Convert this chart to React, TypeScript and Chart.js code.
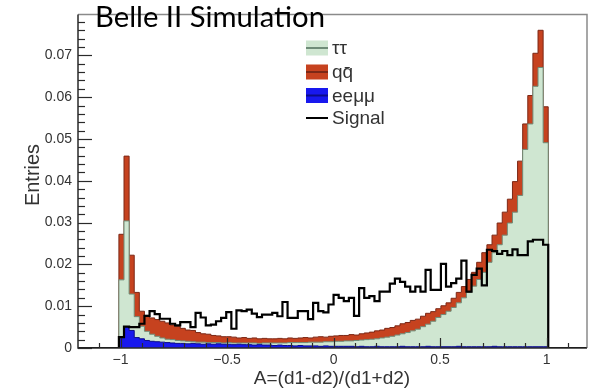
import React, { useEffect, useRef } from "react";
import { Chart, registerables } from "chart.js";
Chart.register(...registerables);

// Histogram binning
const BIN_LOW = -1.008;
const BIN_WIDTH = 0.024;
const X_MIN = -1.2;
const X_MAX = 1.19;
const Y_MIN = 0;
const Y_MAX = 0.0798;

const xTickValues = [-1, -0.5, 0, 0.5, 1];
const xTickLabels = ["\u22121", "\u22120.5", "0", "0.5", "1"];
const yTickValues = [0, 0.01, 0.02, 0.03, 0.04, 0.05, 0.06, 0.07];
const yTickLabels = ["0", "0.01", "0.02", "0.03", "0.04", "0.05", "0.06", "0.07"];

const legendLabels = ["\u03C4\u03C4", "q\u0071\u0304", "ee\u03BC\u03BC", "Signal"];

// qq̄ (top of stack, red)
const qqbar = [
  0.0272, 0.0459, 0.0222, 0.0133, 0.0088, 0.0078, 0.0072, 0.0068, 0.0064, 0.0060,
  0.0055, 0.0052, 0.0047, 0.0043, 0.0042, 0.0037, 0.0034, 0.0033, 0.0030, 0.0029,
  0.0027, 0.0027, 0.0026, 0.0024, 0.0025, 0.0023, 0.0024, 0.0022, 0.0023, 0.0022,
  0.0022, 0.0023, 0.0022, 0.0024, 0.0023, 0.0024, 0.0025, 0.0024, 0.0026, 0.0027,
  0.0026, 0.0028, 0.0029, 0.0030, 0.0030, 0.0032, 0.0031, 0.0034, 0.0036, 0.0038,
  0.0041, 0.0043, 0.0047, 0.0049, 0.0053, 0.0058, 0.0061, 0.0066, 0.0069, 0.0076,
  0.0083, 0.0087, 0.0094, 0.0101, 0.0108, 0.0119, 0.0133, 0.0147, 0.0164, 0.0181,
  0.0205, 0.0228, 0.0247, 0.0270, 0.0299, 0.0325, 0.0356, 0.0398, 0.0447, 0.0536,
  0.0604, 0.0705, 0.0760, 0.0577,
];

// ττ (green)
const tautau = [
  0.0163, 0.0304, 0.0129, 0.0075, 0.0052, 0.0040, 0.0033, 0.0028, 0.0024, 0.0021,
  0.0020, 0.0018, 0.0017, 0.0016, 0.0015, 0.0014, 0.0014, 0.0013, 0.0013, 0.0013,
  0.0012, 0.0013, 0.0012, 0.0012, 0.0012, 0.0012, 0.0012, 0.0011, 0.0012, 0.0012,
  0.0012, 0.0012, 0.0012, 0.0013, 0.0013, 0.0013, 0.0013, 0.0014, 0.0014, 0.0014,
  0.0015, 0.0015, 0.0016, 0.0016, 0.0017, 0.0017, 0.0018, 0.0019, 0.0020, 0.0021,
  0.0022, 0.0024, 0.0026, 0.0028, 0.0031, 0.0034, 0.0037, 0.0041, 0.0045, 0.0051,
  0.0057, 0.0064, 0.0073, 0.0080, 0.0088, 0.0097, 0.0108, 0.0120, 0.0133, 0.0148,
  0.0164, 0.0181, 0.0205, 0.0228, 0.0247, 0.0270, 0.0299, 0.0325, 0.0365, 0.0475,
  0.0536, 0.0626, 0.0671, 0.0491,
];

// eeμμ (blue)
const eemumu = [
  0.0026, 0.0051, 0.0042, 0.0025, 0.0022, 0.0018, 0.0016, 0.0015, 0.0014, 0.0013,
  0.0012, 0.0011, 0.0011, 0.0010, 0.0011, 0.0010, 0.0009, 0.0010, 0.0009, 0.0010,
  0.0009, 0.0009, 0.0008, 0.0009, 0.0008, 0.0008, 0.0007, 0.0008, 0.0007, 0.0007,
  0.0006, 0.0007, 0.0006, 0.0006, 0.0005, 0.0006, 0.0005, 0.0005, 0.0005, 0.0004,
  0.0005, 0.0004, 0.0004, 0.0004, 0.0004, 0.0004, 0.0003, 0.0004, 0.0003, 0.0003,
  0.0004, 0.0003, 0.0003, 0.0003, 0.0003, 0.0004, 0.0003, 0.0003, 0.0003, 0.0003,
  0.0004, 0.0003, 0.0003, 0.0003, 0.0003, 0.0003, 0.0004, 0.0003, 0.0003, 0.0003,
  0.0003, 0.0003, 0.0003, 0.0004, 0.0003, 0.0003, 0.0003, 0.0003, 0.0003, 0.0003,
  0.0003, 0.0003, 0.0003, 0.0003,
];

// Signal (black line)
const signal = [
  0.0026, 0.0051, 0.0050, 0.0050, 0.0058, 0.0077, 0.0088, 0.0081, 0.0070, 0.0070,
  0.0058, 0.0054, 0.0062, 0.0062, 0.0050, 0.0084, 0.0073, 0.0054, 0.0056, 0.0064,
  0.0072, 0.0086, 0.0046, 0.0090, 0.0088, 0.0092, 0.0082, 0.0074, 0.0080, 0.0080,
  0.0084, 0.0076, 0.0110, 0.0072, 0.0072, 0.0088, 0.0088, 0.0069, 0.0108, 0.0088,
  0.0085, 0.0104, 0.0127, 0.0120, 0.0112, 0.0120, 0.0077, 0.0143, 0.0120, 0.0124,
  0.0112, 0.0135, 0.0135, 0.0154, 0.0166, 0.0158, 0.0147, 0.0135, 0.0147, 0.0135,
  0.0187, 0.0139, 0.0139, 0.0201, 0.0147, 0.0155, 0.0166, 0.0209, 0.0135, 0.0175,
  0.0190, 0.0150, 0.0235, 0.0232, 0.0225, 0.0232, 0.0222, 0.0236, 0.0222, 0.0222,
  0.0255, 0.0259, 0.0259, 0.0247,
];

const COLORS = {
  tautauFill: "#cfe6d1",
  tautauLine: "#6f8c78",
  qqFill: "#c6421f",
  qqLine: "#7c2816",
  eeFill: "#1818ee",
  eeLine: "#0c0c8a",
  signal: "#000000",
  text: "#333333",
  axis: "#2a2a2a",
  frame: "#8a8a8a",
};

function histPoints(values: number[], withAxisEnds: boolean) {
  const pts: { x: number; y: number }[] = [];
  if (withAxisEnds) pts.push({ x: X_MIN, y: 0 });
  pts.push({ x: BIN_LOW, y: 0 });
  values.forEach((v, i) => pts.push({ x: BIN_LOW + i * BIN_WIDTH, y: v }));
  const end = BIN_LOW + values.length * BIN_WIDTH;
  pts.push({ x: end, y: values[values.length - 1] });
  pts.push({ x: end, y: 0 });
  if (withAxisEnds) pts.push({ x: X_MAX, y: 0 });
  return pts;
}

const decorPlugin = {
  id: "decor",
  afterDatasetsDraw(chart: any) {
    const { ctx, chartArea, scales } = chart;
    const xs = scales.x;
    const ys = scales.y;
    const { left, right, top, bottom } = chartArea;
    ctx.save();
    ctx.strokeStyle = COLORS.frame;
    ctx.lineWidth = 1.5;
    ctx.beginPath();
    ctx.moveTo(left, top);
    ctx.lineTo(right, top);
    ctx.lineTo(right, bottom);
    ctx.stroke();
    ctx.strokeStyle = COLORS.axis;
    ctx.lineWidth = 1.5;
    ctx.beginPath();
    ctx.moveTo(left, top);
    ctx.lineTo(left, bottom);
    ctx.lineTo(right, bottom);
    ctx.stroke();
    ctx.lineWidth = 1.2;
    for (let i = 0; i <= 39; i++) {
      const v = i * 0.002;
      if (v > Y_MAX) break;
      const py = Math.round(ys.getPixelForValue(v)) + 0.5;
      const major = i % 5 === 0;
      ctx.beginPath();
      ctx.moveTo(left, py);
      ctx.lineTo(left + (major ? 14 : 7), py);
      ctx.stroke();
    }
    for (let i = -11; i <= 11; i++) {
      const v = i * 0.1;
      const px = Math.round(xs.getPixelForValue(v)) + 0.5;
      const major = i % 5 === 0;
      ctx.beginPath();
      ctx.moveTo(px, bottom);
      ctx.lineTo(px, bottom - (major ? 10 : 5));
      ctx.stroke();
    }
    ctx.restore();
  },
  afterDraw(chart: any) {
    const { ctx } = chart;
    ctx.save();
    ctx.fillStyle = COLORS.text;
    ctx.font = "19px 'Liberation Sans', Arial, sans-serif";
    ctx.textAlign = "center";
    ctx.textBaseline = "middle";
    ctx.fillText("A=(d1-d2)/(d1+d2)", 332, 379);
    ctx.save();
    ctx.translate(33, 175);
    ctx.rotate(-Math.PI / 2);
    ctx.font = "20px 'Liberation Sans', Arial, sans-serif";
    ctx.fillText("Entries", 0, 0);
    ctx.restore();

    const bx = 306, bw = 22, bh = 15, tx = 332;
    const rows = [48, 72, 95.5, 118];
    const fills = [COLORS.tautauFill, COLORS.qqFill, COLORS.eeFill, null];
    const lines = [COLORS.tautauLine, COLORS.qqLine, COLORS.eeLine, COLORS.signal];
    ctx.font = "19px 'Liberation Sans', Arial, sans-serif";
    ctx.textAlign = "left";
    ctx.textBaseline = "middle";
    rows.forEach((cy, i) => {
      const f = fills[i];
      if (f) {
        ctx.fillStyle = f;
        ctx.fillRect(bx, cy - bh / 2, bw, bh);
      }
      ctx.strokeStyle = lines[i];
      ctx.lineWidth = 2;
      ctx.beginPath();
      ctx.moveTo(bx, cy);
      ctx.lineTo(bx + bw, cy);
      ctx.stroke();
      ctx.fillStyle = COLORS.text;
      ctx.fillText(legendLabels[i], tx, cy + 1);
    });

    ctx.fillStyle = "#000";
    ctx.font = "28px Lato, 'Open Sans', sans-serif";
    ctx.textAlign = "left";
    ctx.textBaseline = "alphabetic";
    const txt = "Belle II Simulation";
    const w = ctx.measureText(txt).width;
    const target = 230;
    ctx.save();
    ctx.translate(95, 27);
    ctx.scale(target / w, 1);
    ctx.fillText(txt, 0, 0);
    ctx.restore();
    ctx.restore();
  },
};

export default function App() {
  const ref = useRef<HTMLCanvasElement | null>(null);
  useEffect(() => {
    if (!ref.current) return;
    const base = { stepped: true, pointRadius: 0, tension: 0, borderJoinStyle: "miter" };
    const chart = new Chart(ref.current, {
      type: "line",
      data: {
        datasets: [
          { ...base, label: "Signal", data: histPoints(signal, true), borderColor: COLORS.signal, borderWidth: 2.2, fill: false },
          { ...base, label: "eeμμ", data: histPoints(eemumu, false), borderColor: COLORS.eeLine, backgroundColor: COLORS.eeFill, borderWidth: 1, fill: "origin" },
          { ...base, label: "ττ", data: histPoints(tautau, false), borderColor: COLORS.tautauLine, backgroundColor: COLORS.tautauFill, borderWidth: 1, fill: "origin" },
          { ...base, label: "qq̄", data: histPoints(qqbar, false), borderColor: COLORS.qqLine, backgroundColor: COLORS.qqFill, borderWidth: 1, fill: "origin" },
        ] as any,
      },
      options: {
        animation: false,
        responsive: false,
        maintainAspectRatio: false,
        devicePixelRatio: 1,
        layout: { padding: { left: 0, right: 10, top: 5, bottom: 0 } },
        plugins: { legend: { display: false }, tooltip: { enabled: false } },
        scales: {
          x: {
            type: "linear",
            min: X_MIN,
            max: X_MAX,
            grid: { display: false, drawTicks: false },
            border: { display: false },
            afterBuildTicks: (s: any) => { s.ticks = xTickValues.map((v) => ({ value: v })); },
            afterFit: (s: any) => { s.height = 43; },
            ticks: {
              autoSkip: false,
              maxRotation: 0,
              padding: 4,
              color: COLORS.text,
              font: { family: "'Liberation Sans', Arial, sans-serif", size: 14 },
              callback: (_v: any, i: number) => xTickLabels[i],
            },
          },
          y: {
            type: "linear",
            min: Y_MIN,
            max: Y_MAX,
            grid: { display: false, drawTicks: false },
            border: { display: false },
            afterBuildTicks: (s: any) => { s.ticks = yTickValues.map((v) => ({ value: v })); },
            afterFit: (s: any) => { s.width = 78; },
            ticks: {
              autoSkip: false,
              padding: 6,
              color: COLORS.text,
              font: { family: "'Liberation Sans', Arial, sans-serif", size: 14 },
              callback: (_v: any, i: number) => yTickLabels[i],
            },
          },
        },
      } as any,
      plugins: [decorPlugin],
    });
    return () => chart.destroy();
  }, []);
  return (
    <div style={{ position: "fixed", left: 0, top: 0, width: 597, height: 391, background: "#fff" }}>
      <canvas ref={ref} width={597} height={391} />
    </div>
  );
}
